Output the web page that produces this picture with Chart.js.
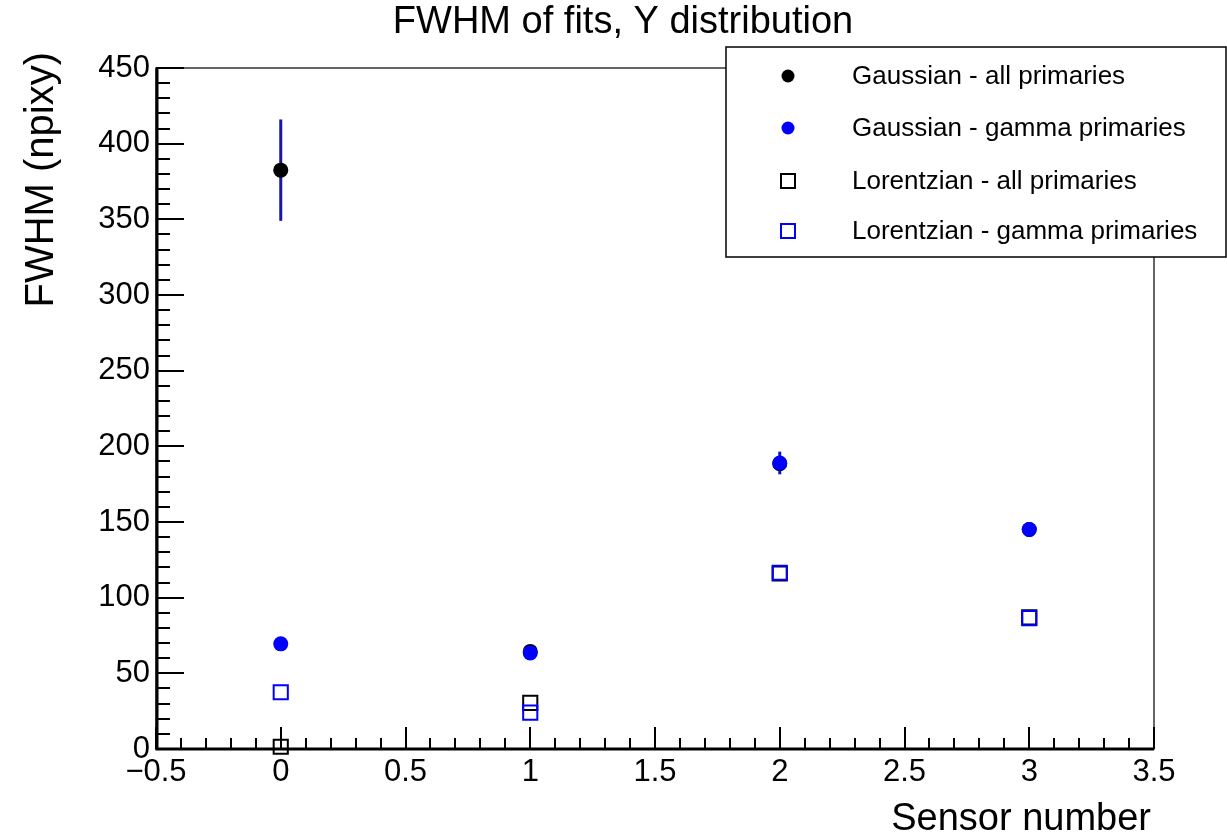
<!DOCTYPE html>
<html>
<head>
<meta charset="utf-8">
<script src="https://cdn.jsdelivr.net/npm/chart.js@4/dist/chart.umd.min.js"></script>
<style>
  html, body { margin: 0; padding: 0; background: #fff; }
  #wrap { width: 1227px; height: 840px; }
</style>
</head>
<body>
<div id="wrap"><canvas id="fwhmChart" width="1227" height="840"></canvas></div>
<script>
// sensor numbers and fitted FWHM values
const sensors = [0, 1, 2, 3];
const gaussAll = [382.5, 64.5, 188.5, 145];
const gaussAllErr = [33.5, 0, 0, 0];
const gaussGamma = [69.5, 63.5, 189, 145];
const gaussGammaErr = [0, 0, 7.5, 0];
const lorentzAll = [1.5, 30.5, 116, 87];
const lorentzGamma = [37.5, 24, 116.5, 86.5];

const seriesLabels = [
    'Gaussian - all primaries',
    'Gaussian - gamma primaries',
    'Lorentzian - all primaries',
    'Lorentzian - gamma primaries'
];

const FONT = '"Liberation Sans", Arial, Helvetica, sans-serif';

function toPoints(ys, errs) {
    return sensors.map((x, i) => ({ x: x, y: ys[i], err: errs ? errs[i] : 0 }));
}

// frame with inward ticks, like ROOT draws it
const framePlugin = {
    id: 'frame',
    beforeDatasetsDraw(chart) {
        const { ctx, chartArea: a, scales: { x, y } } = chart;
        ctx.save();
        ctx.strokeStyle = '#000';
        ctx.lineWidth = 1.2;
        ctx.strokeRect(a.left, a.top, a.right - a.left, a.bottom - a.top);

        ctx.lineWidth = 3;
        ctx.beginPath();
        ctx.moveTo(a.left + 1, a.top);
        ctx.lineTo(a.left + 1, a.bottom);
        ctx.lineTo(a.right, a.bottom);
        ctx.stroke();

        ctx.lineWidth = 2;
        ctx.beginPath();
        for (let k = 0; k <= 45; k++) {
            const py = Math.round(y.getPixelForValue(k * 10));
            const len = k % 5 === 0 ? 28 : 14;
            ctx.moveTo(a.left, py);
            ctx.lineTo(a.left + len, py);
        }
        for (let k = -5; k <= 35; k++) {
            const px = Math.round(x.getPixelForValue(k / 10));
            const len = k % 5 === 0 ? 22 : 11;
            ctx.moveTo(px, a.bottom);
            ctx.lineTo(px, a.bottom - len);
        }
        ctx.stroke();
        ctx.restore();
    }
};

// vertical error bars, drawn under the markers
const errorBarPlugin = {
    id: 'errorBars',
    beforeDatasetsDraw(chart) {
        const { ctx, scales: { x, y } } = chart;
        ctx.save();
        ctx.strokeStyle = '#1616a8';
        ctx.lineWidth = 3;
        chart.data.datasets.forEach(ds => {
            ds.data.forEach(p => {
                if (!p.err) return;
                const px = x.getPixelForValue(p.x);
                ctx.beginPath();
                ctx.moveTo(px, y.getPixelForValue(p.y - p.err));
                ctx.lineTo(px, y.getPixelForValue(p.y + p.err));
                ctx.stroke();
            });
        });
        ctx.restore();
    }
};

// titles and legend box
const textPlugin = {
    id: 'texts',
    afterDraw(chart) {
        const ctx = chart.ctx;
        ctx.save();
        ctx.fillStyle = '#000';
        ctx.font = '38px ' + FONT;
        ctx.textAlign = 'center';
        ctx.textBaseline = 'middle';
        ctx.fillText('FWHM of fits, Y distribution', 623, 23);

        ctx.textAlign = 'right';
        ctx.fillText('Sensor number', 1151, 820);

        ctx.save();
        ctx.font = '40px ' + FONT;
        ctx.translate(42, 52);
        ctx.rotate(-Math.PI / 2);
        ctx.textAlign = 'right';
        ctx.fillText('FWHM (npixy)', 0, 0);
        ctx.restore();

        // legend
        const lx = 726, ly = 47, lw = 500, lh = 210;
        ctx.fillStyle = '#fff';
        ctx.fillRect(lx, ly, lw, lh);
        ctx.strokeStyle = '#000';
        ctx.lineWidth = 1.5;
        ctx.strokeRect(lx, ly, lw, lh);
        const rows = [76, 128, 181, 231];
        ctx.font = '26px ' + FONT;
        ctx.textAlign = 'left';
        chart.data.datasets.forEach((ds, i) => {
            const cy = rows[i];
            ctx.beginPath();
            if (ds.pointStyle === 'circle') {
                ctx.fillStyle = ds.pointBackgroundColor;
                ctx.arc(788, cy, 6.5, 0, Math.PI * 2);
                ctx.fill();
            } else {
                ctx.strokeStyle = ds.pointBorderColor;
                ctx.lineWidth = 2;
                ctx.strokeRect(781, cy - 7, 14, 14);
            }
            ctx.fillStyle = '#000';
            ctx.fillText(ds.label, 852, cy + 1);
        });
        ctx.restore();
    }
};

const tickFmt = v => (v < 0 ? '\u2212' + Math.abs(v) : String(v));

new Chart(document.getElementById('fwhmChart'), {
    type: 'scatter',
    data: {
        datasets: [
            {
                label: seriesLabels[0],
                data: toPoints(gaussAll, gaussAllErr),
                pointStyle: 'circle',
                pointRadius: 7.5,
                pointBackgroundColor: '#000',
                pointBorderColor: '#000',
                pointBorderWidth: 0,
                order: 4,
                clip: false
            },
            {
                label: seriesLabels[1],
                data: toPoints(gaussGamma, gaussGammaErr),
                pointStyle: 'circle',
                pointRadius: 7.5,
                pointBackgroundColor: '#0000ff',
                pointBorderColor: '#0000ff',
                pointBorderWidth: 0,
                order: 3,
                clip: false
            },
            {
                label: seriesLabels[2],
                data: toPoints(lorentzAll),
                pointStyle: 'rect',
                pointRadius: 10,
                pointBackgroundColor: 'rgba(0,0,0,0)',
                pointBorderColor: '#000',
                pointBorderWidth: 2,
                order: 2,
                clip: false
            },
            {
                label: seriesLabels[3],
                data: toPoints(lorentzGamma),
                pointStyle: 'rect',
                pointRadius: 10,
                pointBackgroundColor: 'rgba(0,0,0,0)',
                pointBorderColor: '#0000ff',
                pointBorderWidth: 2,
                order: 1,
                clip: false
            }
        ]
    },
    options: {
        responsive: false,
        animation: false,
        layout: { padding: { top: 68, right: 73, left: 0, bottom: 0 } },
        plugins: {
            legend: { display: false },
            title: { display: false },
            tooltip: { enabled: false }
        },
        scales: {
            x: {
                type: 'linear',
                min: -0.5,
                max: 3.5,
                afterFit: s => { s.height = 91; },
                grid: { display: false, drawTicks: false },
                border: { display: false },
                ticks: {
                    stepSize: 0.5,
                    padding: 5,
                    color: '#000',
                    font: { family: FONT, size: 31 },
                    callback: tickFmt,
                    maxRotation: 0
                }
            },
            y: {
                type: 'linear',
                min: 0,
                max: 450,
                afterFit: s => { s.width = 156; },
                grid: { display: false, drawTicks: false },
                border: { display: false },
                ticks: {
                    stepSize: 50,
                    padding: 6,
                    color: '#000',
                    font: { family: FONT, size: 31 },
                    callback: tickFmt
                }
            }
        }
    },
    plugins: [framePlugin, errorBarPlugin, textPlugin]
});
</script>
</body>
</html>
